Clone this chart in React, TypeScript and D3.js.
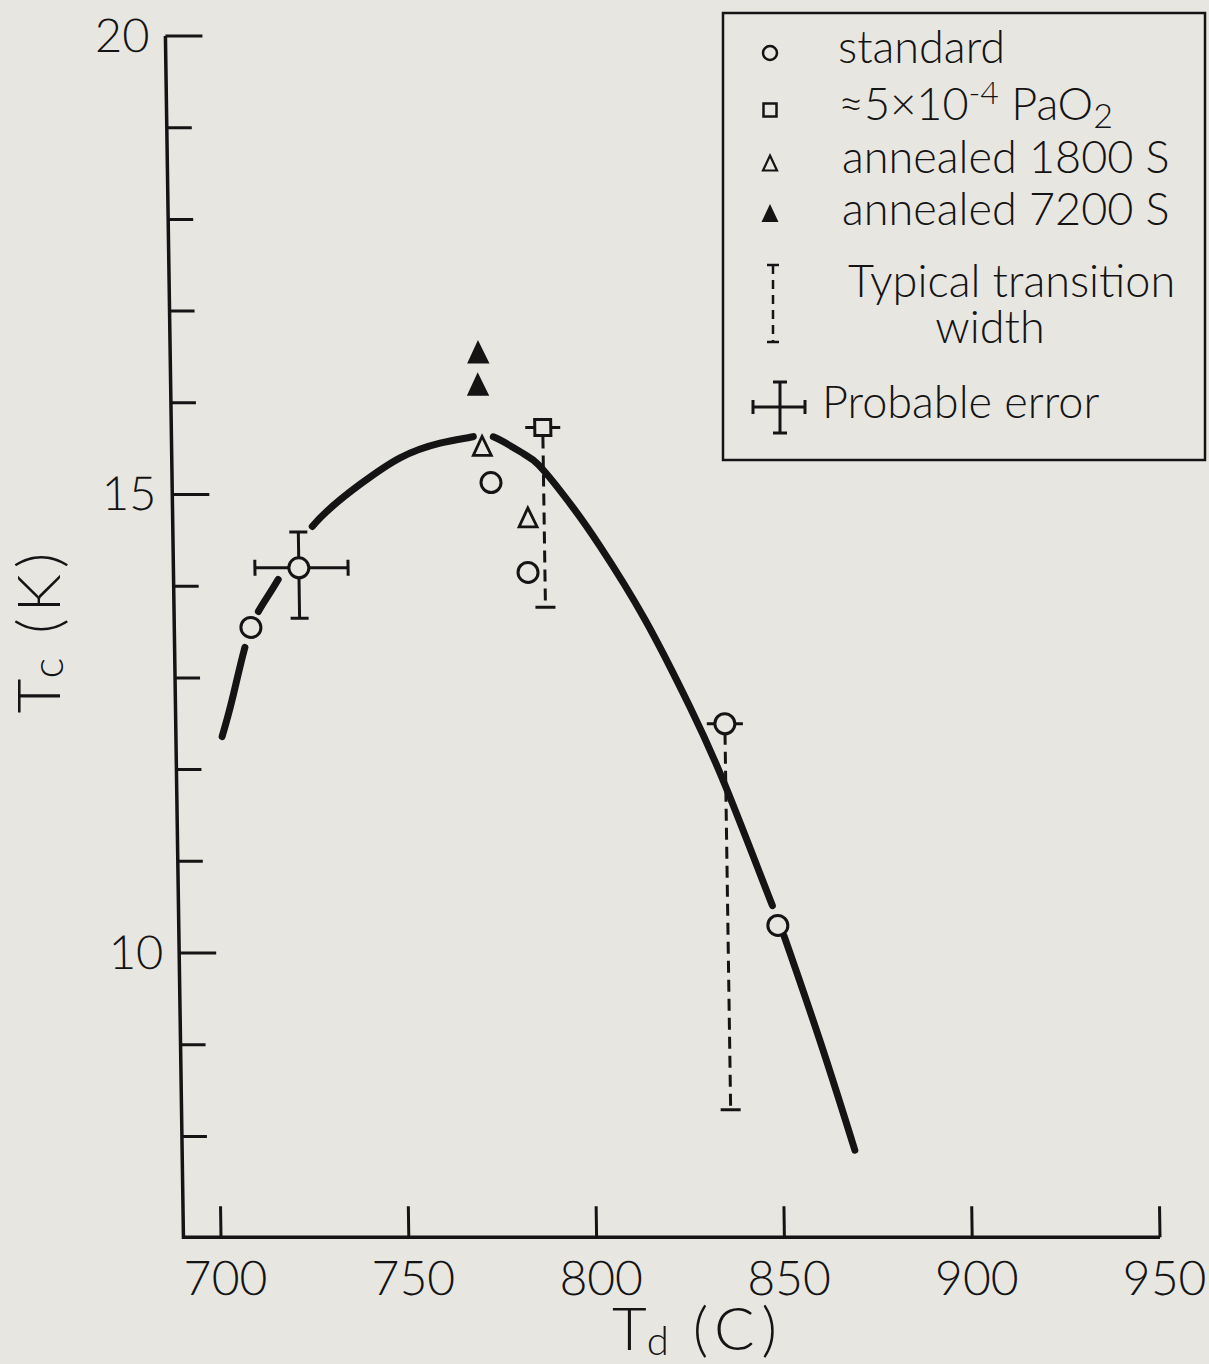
import React, { useEffect, useRef, useState } from 'react';
import * as d3 from 'd3';

const W = 1209;
const H = 1364;

const xTicks = [700, 750, 800, 850, 900, 950];
const yMajorTicks = [10, 15, 20];
const yMinorTicks = [8, 9, 11, 12, 13, 14, 16, 17, 18, 19];

// standard samples (open circles)
const standardTd = [710.4, 723.4, 774.9, 784.4, 836.2, 849.5];
const standardTc = [13.55, 14.2, 15.13, 14.15, 12.5, 10.3];

// ~5e-4 Pa O2 (open square)
const oxygenTd = [788.9];
const oxygenTc = [15.73];

// annealed 1800 s (open triangles)
const anneal1800Td = [772.7, 784.6];
const anneal1800Tc = [15.53, 14.75];

// annealed 7200 s (filled triangles)
const anneal7200Td = [772.0, 771.8];
const anneal7200Tc = [16.55, 16.2];

// hand drawn trend curve
const curveTd = [702.3, 705.1, 708.7, 712.4, 717.8, 727.1, 740.0, 750.8, 761.5, 770.3, 775.6,
  783.5, 788.8, 796.6, 803.6, 815.3, 827.0, 836.5, 848.1, 851.0, 860.2, 869.1];
const curveTc = [12.36, 12.76, 13.33, 13.72, 14.07, 14.65, 15.11, 15.40, 15.56, 15.63, 15.63,
  15.45, 15.27, 14.86, 14.44, 13.64, 12.68, 11.78, 10.52, 10.2, 9.05, 7.85];
// where the curve is interrupted by markers
const curveBreaks = [[708.7, 712.4], [717.8, 727.1], [770.3, 775.6], [848.1, 851.1]];

// typical transition width (dashed bars)
const widthTd = [788.9, 836.2];
const widthTop = [15.73, 12.5];
const widthBottom = [13.77, 8.29];
const widthDTd = [4.66, 4.8];

// probable error (cross)
const errTd = [723.4];
const errTc = [14.2];
const errTdLow = [711.7];
const errTdHigh = [736.5];
const errTcLow = [13.65];
const errTcHigh = [14.59];

const ink = '#141414';
const paper = '#e8e6e1';
const font = "Lato, 'Open Sans', sans-serif";

const x = d3.scaleLinear().domain([700, 950]).range([221, 1160]);
const y = d3.scaleLinear().domain([10, 20]).range([953, 36]);
const xMin = 690;
const yMin = 6.9;

// the scanned page is slightly sheared
const shear = 0.015;

const tri = (cx: number, cy: number, w: number, h: number) =>
  `M${cx},${cy - h / 2}L${cx + w / 2},${cy + h / 2}L${cx - w / 2},${cy + h / 2}Z`;

const line = d3
  .line<number>()
  .x((d) => x(curveTd[d]))
  .y((d) => y(curveTc[d]))
  .curve(d3.curveNatural);

export default function App() {
  const x0 = x(xMin);
  const y0 = y(yMin);
  const skew = `translate(${-shear * y0},0) skewX(${(Math.atan(shear) * 180) / Math.PI})`;

  const curveRef = useRef<SVGPathElement | null>(null);
  const [dash, setDash] = useState<string | undefined>(undefined);

  // turn the x breaks into a dash pattern along the curve
  useEffect(() => {
    const p = curveRef.current;
    if (!p) return;
    const total = p.getTotalLength();
    const xs: number[] = [];
    for (let l = 0; l <= total; l += 0.5) xs.push(p.getPointAtLength(l).x);
    const cuts: number[] = [];
    curveBreaks.forEach(([a, b]) => {
      const ia = xs.findIndex((v) => v >= x(a));
      const ib = xs.findIndex((v) => v >= x(b));
      cuts.push(ia * 0.5, ib * 0.5);
    });
    const parts: number[] = [];
    let prev = 0;
    cuts.forEach((c) => {
      parts.push(c - prev);
      prev = c;
    });
    parts.push(total - prev + 10);
    setDash(parts.join(' '));
  }, []);

  return (
    <svg width={W} height={H} style={{ position: 'absolute', left: 0, top: 0 }} fontFamily={font}>
      <rect width={W} height={H} fill={paper} />

      <g transform={skew}>
        {/* axes */}
        <path d={`M${x0},${y(20)}V${y0}H${x(950)}`} fill="none" stroke={ink} strokeWidth={3.5} />
        {yMajorTicks.map((v) => (
          <g key={'ym' + v}>
            <line x1={x0} x2={x0 + 37} y1={y(v)} y2={y(v)} stroke={ink} strokeWidth={3} />
            <text x={x0 - 16} y={y(v) + 16} textAnchor="end" fontSize={47} fontWeight={300} fill={ink}>
              {v}
            </text>
          </g>
        ))}
        {yMinorTicks.map((v) => (
          <line key={'yn' + v} x1={x0} x2={x0 + 25} y1={y(v)} y2={y(v)} stroke={ink} strokeWidth={3} />
        ))}
        {xTicks.map((t) => (
          <g key={'x' + t}>
            <line x1={x(t)} x2={x(t)} y1={y0} y2={y0 - 31} stroke={ink} strokeWidth={3} />
            <text x={x(t) + 4} y={1295} textAnchor="middle" fontSize={48} fontWeight={300} fill={ink}>
              {t}
            </text>
          </g>
        ))}

        {/* trend curve */}
        <path
          ref={curveRef}
          d={line(d3.range(curveTd.length)) || ''}
          fill="none"
          stroke={ink}
          strokeWidth={7}
          strokeLinecap="round"
          strokeDasharray={dash}
        />

        {/* transition width bars */}
        {widthTd.map((t, i) => (
          <g key={'w' + i} stroke={ink} strokeWidth={3}>
            <line x1={x(t)} x2={x(t)} y1={y(widthTop[i]) + 9} y2={y(widthBottom[i])} strokeDasharray="12 7" />
            <line x1={x(t) - 10} x2={x(t) + 10} y1={y(widthBottom[i])} y2={y(widthBottom[i])} />
            <line x1={x(t - widthDTd[i])} x2={x(t + widthDTd[i])} y1={y(widthTop[i])} y2={y(widthTop[i])} />
          </g>
        ))}

        {/* probable error cross */}
        {errTd.map((t, i) => (
          <g key={'e' + i} stroke={ink} strokeWidth={3}>
            <line x1={x(errTdLow[i])} x2={x(errTdHigh[i])} y1={y(errTc[i])} y2={y(errTc[i])} />
            <line x1={x(errTdLow[i])} x2={x(errTdLow[i])} y1={y(errTc[i]) - 8} y2={y(errTc[i]) + 8} />
            <line x1={x(errTdHigh[i])} x2={x(errTdHigh[i])} y1={y(errTc[i]) - 8} y2={y(errTc[i]) + 8} />
            <line x1={x(t)} x2={x(t)} y1={y(errTcHigh[i])} y2={y(errTcLow[i])} />
            <line x1={x(t) - 9} x2={x(t) + 9} y1={y(errTcHigh[i])} y2={y(errTcHigh[i])} />
            <line x1={x(t) - 9} x2={x(t) + 9} y1={y(errTcLow[i])} y2={y(errTcLow[i])} />
          </g>
        ))}

        {/* markers */}
        {standardTd.map((t, i) => (
          <circle key={'s' + i} cx={x(t)} cy={y(standardTc[i])} r={10} fill={paper} stroke={ink} strokeWidth={3} />
        ))}
        {oxygenTd.map((t, i) => (
          <rect key={'o' + i} x={x(t) - 8} y={y(oxygenTc[i]) - 8} width={16} height={16} fill={paper} stroke={ink} strokeWidth={3} />
        ))}
        {anneal1800Td.map((t, i) => (
          <path key={'a' + i} d={tri(x(t), y(anneal1800Tc[i]), 18, 19)} fill={paper} stroke={ink} strokeWidth={2.8} />
        ))}
        {anneal7200Td.map((t, i) => (
          <path key={'f' + i} d={tri(x(t), y(anneal7200Tc[i]), 20, 21)} fill={ink} stroke={ink} strokeWidth={1.5} />
        ))}
      </g>

      {/* axis titles */}
      <text x={612} y={1350} fontSize={60} fontWeight={300} fill={ink}>
        T<tspan fontSize={40} dy={5}>d</tspan>
        <tspan dy={-5} dx={24} letterSpacing={7}>(C)</tspan>
      </text>
      <text transform="translate(60,630) rotate(-90)" textAnchor="middle" fontSize={60} fontWeight={300} fill={ink}>
        T<tspan fontSize={44} dy={3}>c</tspan>
        <tspan dy={-3} dx={24} letterSpacing={6}>(K)</tspan>
      </text>

      {/* legend */}
      <g fill={ink} fontSize={45} fontWeight={300}>
        <rect x={723} y={13} width={482} height={447} fill="none" stroke={ink} strokeWidth={2.5} />
        <circle cx={770} cy={53} r={7} fill="none" stroke={ink} strokeWidth={2.5} />
        <text x={838} y={63}>standard</text>
        <rect x={763.5} y={103.5} width={13} height={13} fill="none" stroke={ink} strokeWidth={2.5} />
        <text x={838} y={120}>
          ≈5×10<tspan fontSize={32} dy={-16}>-4</tspan>
          <tspan dy={16}> PaO</tspan>
          <tspan fontSize={34} dy={8}>2</tspan>
        </text>
        <path d={tri(770, 163, 14, 15)} fill="none" stroke={ink} strokeWidth={2.2} />
        <text x={842} y={173}>annealed 1800 S</text>
        <path d={tri(770, 213, 17, 18)} fill={ink} />
        <text x={842} y={225}>annealed 7200 S</text>
        <g stroke={ink} strokeWidth={2.5}>
          <line x1={773} x2={773} y1={265} y2={342} strokeDasharray="9 6" />
          <line x1={767} x2={779} y1={265} y2={265} />
          <line x1={767} x2={779} y1={342} y2={342} />
        </g>
        <text x={848} y={297}>Typical transition</text>
        <text x={990} y={343} textAnchor="middle">width</text>
        <g stroke={ink} strokeWidth={3}>
          <line x1={753} x2={805} y1={407} y2={407} />
          <line x1={753} x2={753} y1={400} y2={414} />
          <line x1={805} x2={805} y1={400} y2={414} />
          <line x1={780} x2={780} y1={382} y2={433} />
          <line x1={773} x2={787} y1={382} y2={382} />
          <line x1={773} x2={787} y1={433} y2={433} />
        </g>
        <text x={822} y={418}>Probable error</text>
      </g>
    </svg>
  );
}
